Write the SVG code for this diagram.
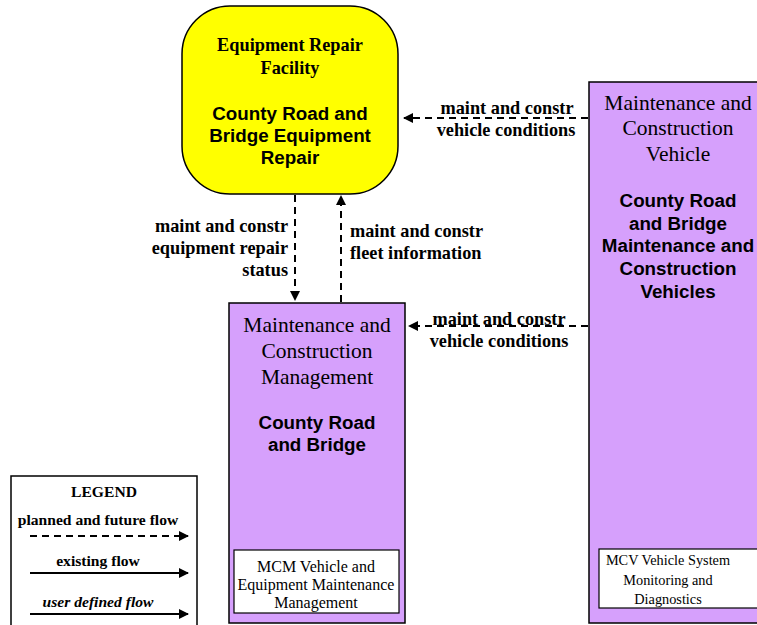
<svg xmlns="http://www.w3.org/2000/svg" width="757" height="625" viewBox="0 0 757 625">
<style>
.lbl{font-family:"Liberation Serif",serif;font-weight:bold;font-size:18.3px;fill:#000}
.ttl{font-family:"Liberation Serif",serif;font-size:21.5px;fill:#000}
.nm{font-family:"Liberation Sans",sans-serif;font-weight:bold;font-size:18.8px;fill:#000}
.sub{font-family:"Liberation Serif",serif;font-size:16px;fill:#000}
.sub2{font-family:"Liberation Serif",serif;font-size:14.3px;fill:#000}
.leg{font-family:"Liberation Serif",serif;font-weight:bold;font-size:15.6px;fill:#000}
.flow{stroke:#000;stroke-width:2;fill:none;stroke-dasharray:7,5}
.solid{stroke:#000;stroke-width:2;fill:none}
.box{fill:#d6a0fc;stroke:#000;stroke-width:1.5}
.inner{fill:#fff;stroke:#000;stroke-width:1.2}
</style>
<defs>
<marker id="ah" viewBox="0 0 10 10" refX="9" refY="5" markerWidth="5" markerHeight="5" orient="auto" markerUnits="strokeWidth">
<path d="M0,0 L10,5 L0,10 z" fill="#000"/>
</marker>
</defs>
<rect width="757" height="625" fill="#fff"/>
<g id="erf">
<rect x="182" y="6" width="216" height="188" rx="48" ry="48" fill="#ffff00" stroke="#000" stroke-width="1.5"/>
<text class="lbl" x="290" y="51" text-anchor="middle">Equipment Repair</text>
<text class="lbl" x="290" y="74" text-anchor="middle">Facility</text>
<text class="nm" x="290" y="120" text-anchor="middle">County Road and</text>
<text class="nm" x="290" y="142" text-anchor="middle">Bridge Equipment</text>
<text class="nm" x="290" y="164" text-anchor="middle">Repair</text>
</g>
<g id="mcm">
<rect class="box" x="229" y="303" width="176" height="320"/>
<text class="ttl" x="317" y="332" text-anchor="middle">Maintenance and</text>
<text class="ttl" x="317" y="358" text-anchor="middle">Construction</text>
<text class="ttl" x="317" y="384" text-anchor="middle">Management</text>
<text class="nm" x="317" y="429" text-anchor="middle">County Road</text>
<text class="nm" x="317" y="451" text-anchor="middle">and Bridge</text>
<rect class="inner" x="234" y="550" width="165" height="63"/>
<text class="sub" x="316" y="572" text-anchor="middle">MCM Vehicle and</text>
<text class="sub" x="316" y="590" text-anchor="middle">Equipment Maintenance</text>
<text class="sub" x="316" y="608" text-anchor="middle">Management</text>
</g>
<g id="mcv">
<rect class="box" x="589" y="82" width="170" height="541"/>
<text class="ttl" x="678" y="110" text-anchor="middle">Maintenance and</text>
<text class="ttl" x="678" y="135" text-anchor="middle">Construction</text>
<text class="ttl" x="678" y="161" text-anchor="middle">Vehicle</text>
<text class="nm" x="678" y="207" text-anchor="middle">County Road</text>
<text class="nm" x="678" y="230" text-anchor="middle">and Bridge</text>
<text class="nm" x="678" y="252" text-anchor="middle">Maintenance and</text>
<text class="nm" x="678" y="275" text-anchor="middle">Construction</text>
<text class="nm" x="678" y="298" text-anchor="middle">Vehicles</text>
<rect class="inner" x="599" y="549" width="160" height="59"/>
<text class="sub2" x="668" y="565" text-anchor="middle">MCV Vehicle System</text>
<text class="sub2" x="668" y="585" text-anchor="middle">Monitoring and</text>
<text class="sub2" x="668" y="604" text-anchor="middle">Diagnostics</text>
</g>
<g id="connectors">
<line class="flow" x1="588" y1="118" x2="404" y2="118" marker-end="url(#ah)"/>
<text class="lbl" x="507" y="114" text-anchor="middle">maint and constr</text>
<text class="lbl" x="506" y="136" text-anchor="middle">vehicle conditions</text>
<line class="flow" x1="588" y1="326" x2="409" y2="326" marker-end="url(#ah)"/>
<text class="lbl" x="499" y="325" text-anchor="middle">maint and constr</text>
<text class="lbl" x="499" y="347" text-anchor="middle">vehicle conditions</text>
<line class="flow" x1="295" y1="195" x2="295" y2="300" marker-end="url(#ah)"/>
<text class="lbl" x="288" y="232" text-anchor="end">maint and constr</text>
<text class="lbl" x="288" y="254" text-anchor="end">equipment repair</text>
<text class="lbl" x="288" y="276" text-anchor="end">status</text>
<line class="flow" x1="341" y1="302" x2="341" y2="196" marker-end="url(#ah)"/>
<text class="lbl" x="350" y="237" text-anchor="start">maint and constr</text>
<text class="lbl" x="350" y="259" text-anchor="start">fleet information</text>
</g>
<g id="legend">
<rect x="11" y="476" width="186" height="160" fill="#fff" stroke="#000" stroke-width="1.5"/>
<text class="leg" x="104" y="497" text-anchor="middle">LEGEND</text>
<text class="leg" x="98" y="525" text-anchor="middle">planned and future flow</text>
<line class="flow" x1="30" y1="536" x2="188" y2="536" marker-end="url(#ah)"/>
<text class="leg" x="98" y="566" text-anchor="middle">existing flow</text>
<line class="solid" x1="30" y1="573" x2="188" y2="573" marker-end="url(#ah)"/>
<text class="leg" x="98" y="607" text-anchor="middle" font-style="italic">user defined flow</text>
<line class="solid" x1="30" y1="614" x2="188" y2="614" marker-end="url(#ah)"/>
</g>
</svg>
